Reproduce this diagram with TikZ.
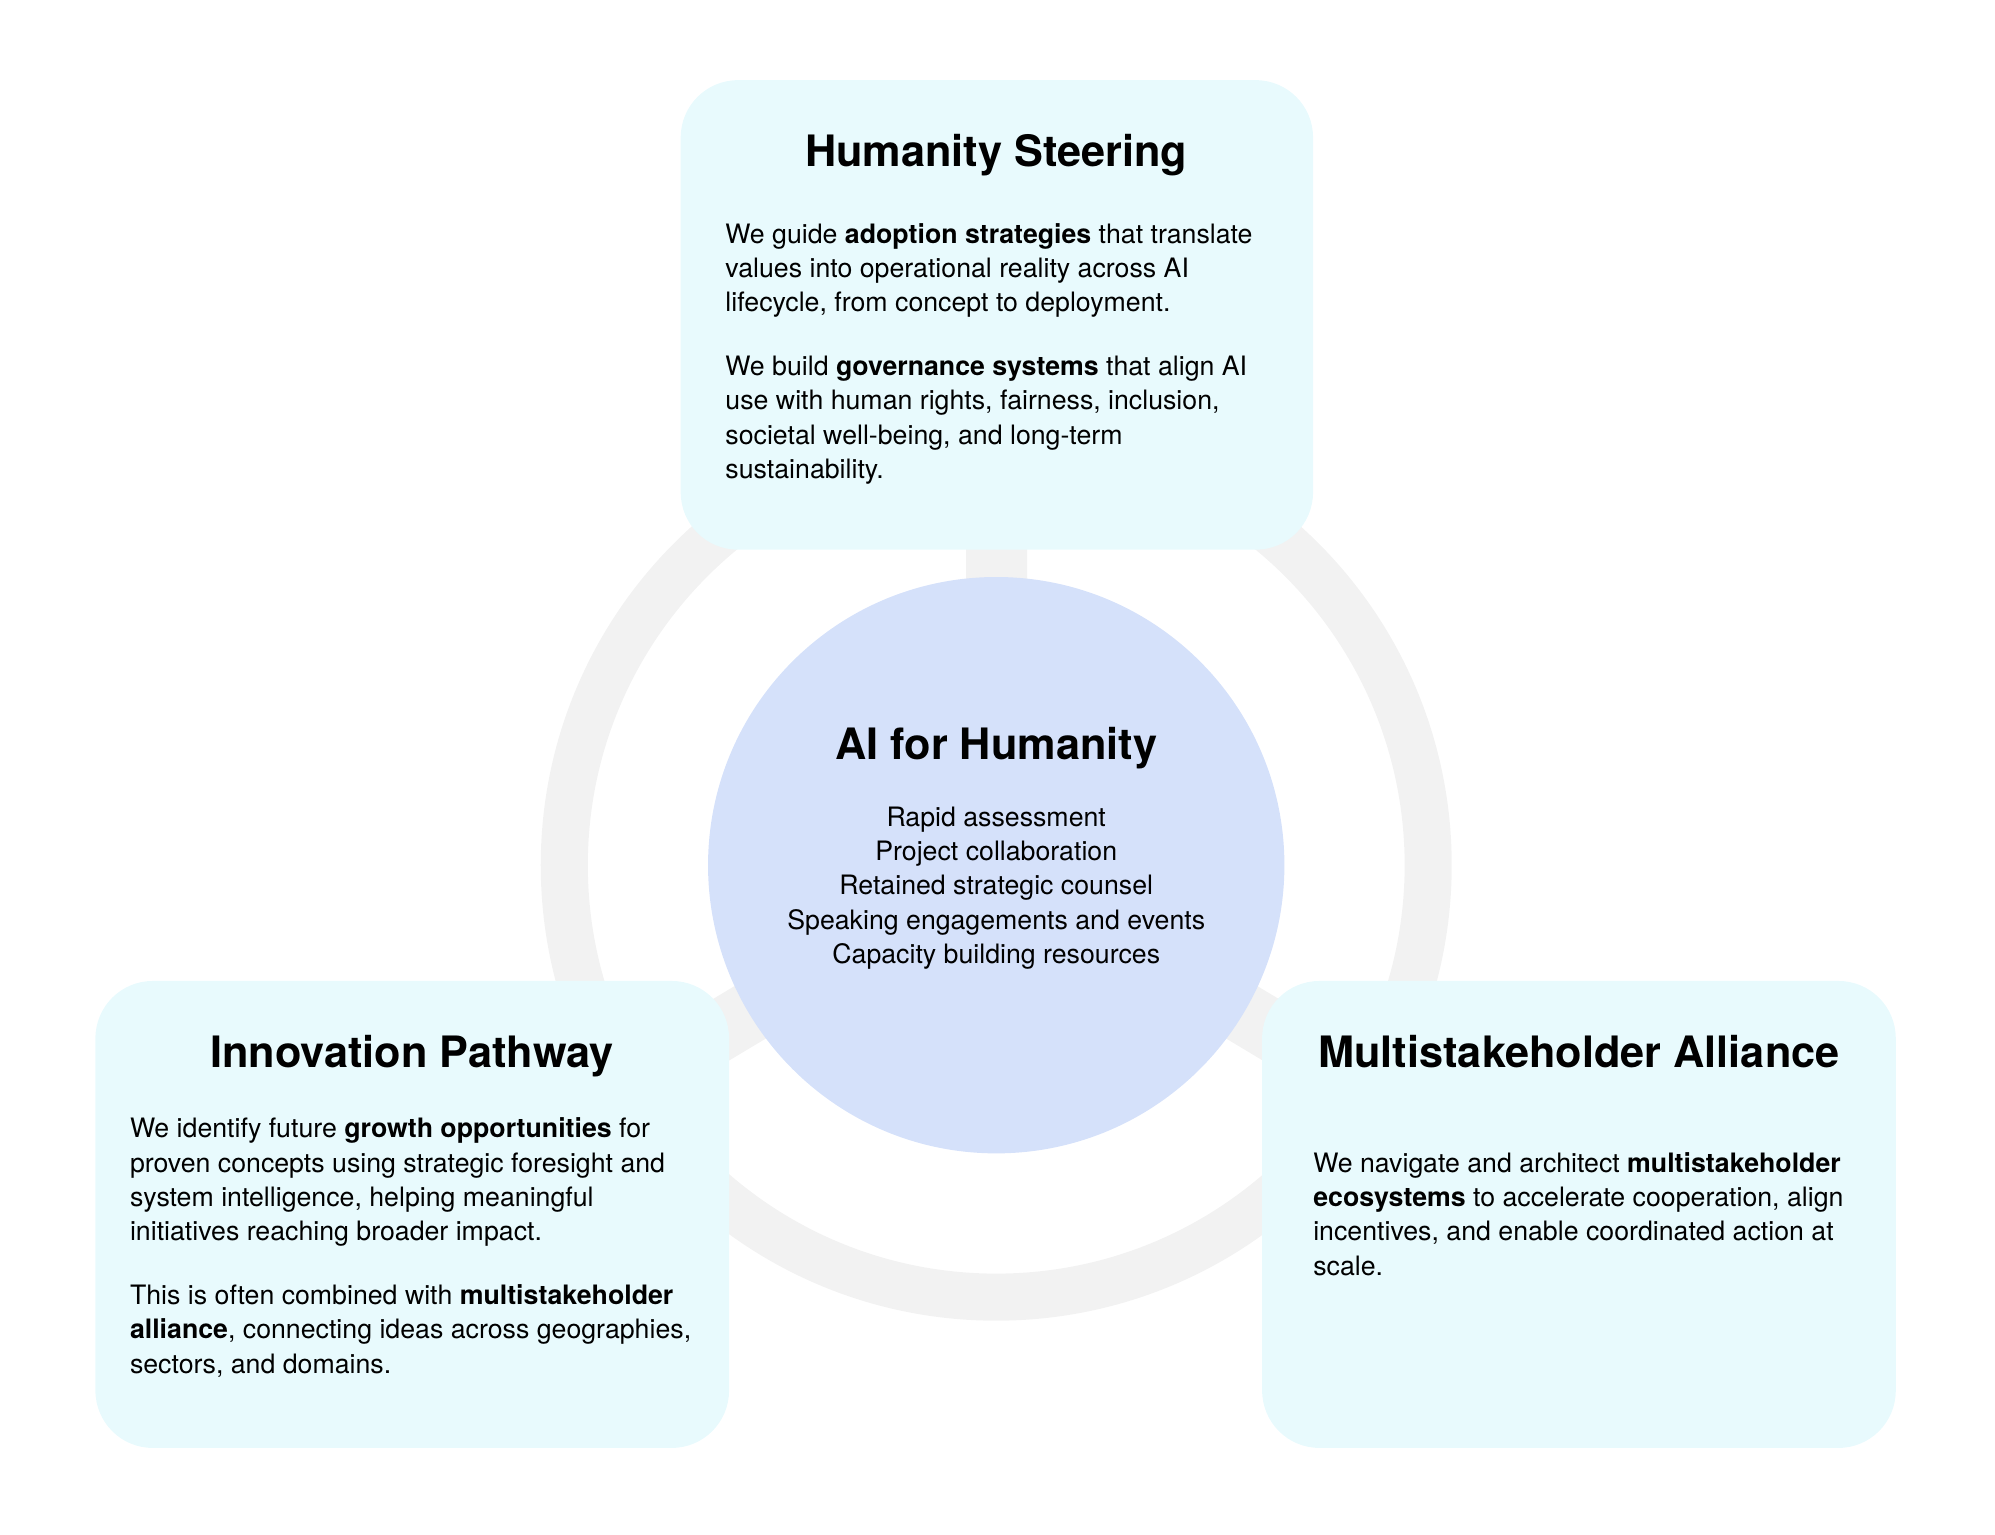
\documentclass[tikz,border=0pt]{standalone}
\usepackage{fontspec}
\setmainfont{TeX Gyre Heros}
\definecolor{boxfill}{HTML}{E8FAFD}
\definecolor{hubfill}{HTML}{D5E1FA}
\definecolor{ringgray}{HTML}{F2F2F2}
\pgfdeclarelayer{background}
\pgfsetlayers{background,main}
\begin{document}
\begin{tikzpicture}[x=1pt,y=-1pt,
  card/.style={fill=boxfill, draw=none, rounded corners=45pt, inner sep=0pt},
  hubnode/.style={circle, fill=hubfill, draw=none, inner sep=0pt, minimum size=453pt},
  titletext/.style={font=\fontsize{34}{40}\selectfont\bfseries, inner sep=0pt, anchor=base},
  bodytext/.style={font=\fontsize{21}{27}\selectfont, inner sep=0pt, align=left, anchor=north west},
  listtext/.style={font=\fontsize{21}{27}\selectfont, inner sep=0pt, align=center, anchor=north},
  ring/.style={draw=ringgray, line width=37pt},
  spoke/.style={draw=ringgray, line width=48pt}
]
\useasboundingbox (0,0) rectangle (1568,1205.7);

% boxes and hub
\node[card, minimum width=497pt, minimum height=369pt] (top) at (783.5,247.5) {};
\node[card, minimum width=498pt, minimum height=367pt] (left) at (324,954.5) {};
\node[card, minimum width=498pt, minimum height=367pt] (right) at (1241,954.5) {};
\node[hubnode] (hub) at (783,680) {};

% ring and spokes behind
\begin{pgfonlayer}{background}
  \draw[ring] (hub.center) circle[radius=339.5pt];
  \draw[spoke] (hub.center) -- (top.center);
  \draw[spoke] (hub.center) -- (left.center);
  \draw[spoke] (hub.center) -- (right.center);
\end{pgfonlayer}

% top box text
\node[titletext] (toptitle) at (783,131) {Humanity Steering};
\node[bodytext] (topbody) at (570,172.1) {\strut We guide \textbf{adoption strategies} that translate\\
values into operational reality across AI\\
lifecycle, from concept to deployment.\\[23pt]
We build \textbf{governance systems} that align AI\\
use with human rights, fairness, inclusion,\\
societal well-being, and long-term\\
sustainability.};

% hub text
\node[titletext] (hubtitle) at (783,597) {AI for Humanity};
\node[listtext] (hublist) at (783,630.1) {\strut Rapid assessment\\
Project collaboration\\
Retained strategic counsel\\
Speaking engagements and events\\
Capacity building resources};

% left box text
\node[titletext] (lefttitle) at (324,839) {Innovation Pathway};
\node[bodytext] (leftbody) at (102,875.1) {\strut We identify future \textbf{growth opportunities} for\\
proven concepts using strategic foresight and\\
system intelligence, helping meaningful\\
initiatives reaching broader impact.\\[23pt]
This is often combined with \textbf{multistakeholder}\\
\textbf{alliance}, connecting ideas across geographies,\\
sectors, and domains.};

% right box text
\node[titletext] (righttitle) at (1241,839) {Multistakeholder Alliance};
\node[bodytext] (rightbody) at (1032,902.1) {\strut We navigate and architect \textbf{multistakeholder}\\
\textbf{ecosystems} to accelerate cooperation, align\\
incentives, and enable coordinated action at\\
scale.};
\end{tikzpicture}
\end{document}
